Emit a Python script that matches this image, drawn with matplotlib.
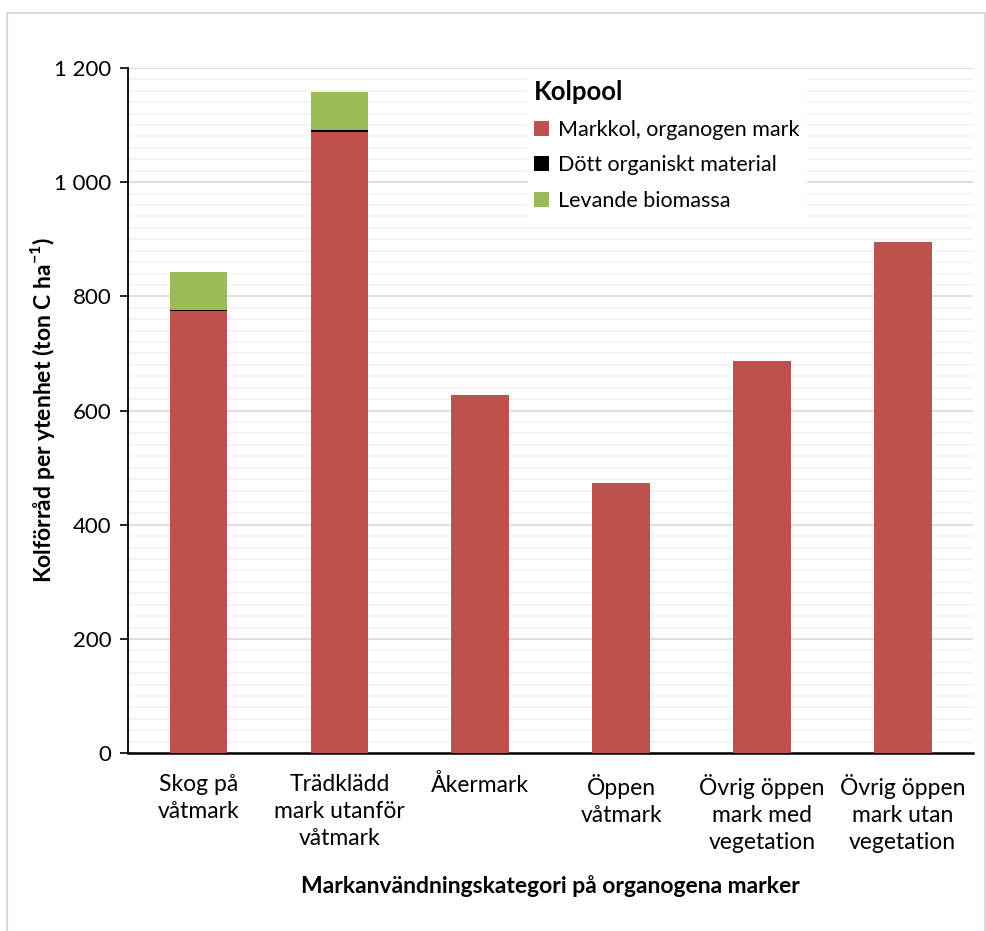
import matplotlib.pyplot as plt
from matplotlib.patches import Rectangle
import numpy as np

plt.rcParams['font.family'] = ['Lato', 'DejaVu Sans']
plt.rcParams['mathtext.fontset'] = 'custom'
plt.rcParams['mathtext.rm'] = 'Lato'
plt.rcParams['mathtext.bf'] = 'Lato:bold'

categories = ["Skog på\nvåtmark", "Trädklädd\nmark utanför\nvåtmark", "Åkermark",
              "Öppen\nvåtmark", "Övrig öppen\nmark med\nvegetation", "Övrig öppen\nmark utan\nvegetation"]
markkol = [774, 1088, 628, 473, 687, 895]
dott = [3, 3, 0, 0, 0, 0]
levande = [66, 67, 0, 0, 0, 0]

red = '#c0504d'
black = '#000000'
green = '#9bbb59'

fig = plt.figure(figsize=(9.86, 9.31), dpi=100)
ax = fig.add_axes([0.13, 0.191, 0.857, 0.736])

# light frame around the whole chart
fig.patches.append(Rectangle((0.007, -0.01), 0.992, 0.996, transform=fig.transFigure,
                             fill=False, edgecolor='#d9d9d9', linewidth=1.5))

x = np.arange(len(categories))
w = 0.41
ax.bar(x, markkol, w, color=red, label="Markkol, organogen mark", zorder=3)
ax.bar(x, dott, w, bottom=markkol, color=black, label="Dött organiskt material", zorder=3)
bottom2 = [a + b for a, b in zip(markkol, dott)]
ax.bar(x, levande, w, bottom=bottom2, color=green, label="Levande biomassa", zorder=3)

ax.set_xlim(-0.5, 5.5)
ax.set_ylim(0, 1200)
ax.set_yticks(range(0, 1201, 200))
ax.set_yticks(range(0, 1201, 20), minor=True)
ax.set_yticklabels(['0', '200', '400', '600', '800', '1 000', '1 200'], fontsize=16)
ax.grid(axis='y', which='major', color='#d9d9d9', linewidth=1.2, zorder=0)
ax.grid(axis='y', which='minor', color='#f2f2f2', linewidth=1.2, zorder=0)
ax.tick_params(axis='y', which='minor', length=0)
ax.tick_params(axis='y', which='major', length=6, width=1.2, pad=6)
ax.set_xticks(x)
ax.set_xticklabels(categories, fontsize=16.5, va='top', linespacing=1.35)
ax.tick_params(axis='x', length=0, pad=15)

for s in ['top', 'right']:
    ax.spines[s].set_visible(False)
ax.spines['left'].set_linewidth(1.3)
ax.spines['bottom'].set_linewidth(1.8)

ax.set_ylabel("Kolförråd per ytenhet (ton C ha$^{\\mathbf{-1}}$)", fontsize=16.5, fontweight='bold', labelpad=-2)
ax.set_xlabel("Markanvändningskategori på organogena marker", fontsize=16.5, fontweight='bold', labelpad=16)

leg = ax.legend(loc='upper left', bbox_to_anchor=(0.46, 1.007), title="Kolpool", fontsize=15.5,
                title_fontproperties={'weight': 'bold', 'size': 18.5}, frameon=True, fancybox=False,
                handlelength=0.7, handleheight=0.7, handletextpad=0.4, labelspacing=0.72, borderpad=0.3)
leg.get_frame().set_edgecolor('white')
leg.get_frame().set_facecolor('white')
leg.get_frame().set_alpha(1)
leg._legend_box.align = "left"

fig.savefig('out.png', dpi=100)
